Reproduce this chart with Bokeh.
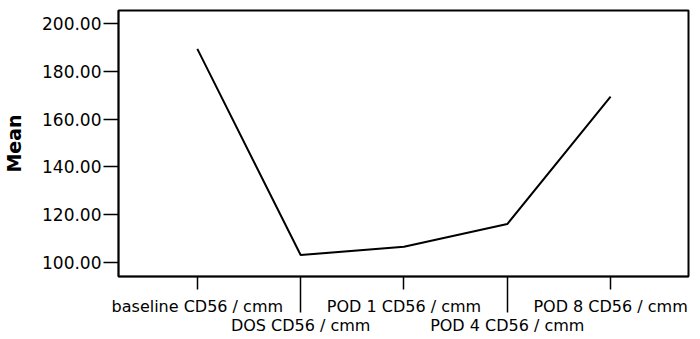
from bokeh.plotting import figure
from bokeh.models import FixedTicker, LinearAxis, Range1d, PrintfTickFormatter
from bokeh.embed import file_html
from bokeh.resources import INLINE

categories = ["baseline CD56 / cmm", "DOS CD56 / cmm", "POD 1 CD56 / cmm",
              "POD 4 CD56 / cmm", "POD 8 CD56 / cmm"]
means = [189.5, 103.0, 106.5, 116.0, 169.5]
y_ticks = [100, 120, 140, 160, 180, 200]

x = list(range(len(categories)))
FONT = "DejaVu Sans"

p = figure(width=700, height=339, output_backend="svg", toolbar_location=None,
           x_range=Range1d(-0.763, 4.754), y_range=Range1d(94.0, 205.6),
           min_border_left=117, min_border_right=12, min_border_top=10,
           min_border_bottom=63, x_axis_location=None)

p.line(x, means, line_color="black", line_width=2.0)

p.xgrid.visible = False
p.ygrid.visible = False
p.outline_line_color = "black"
p.outline_line_width = 2
p.background_fill_color = "white"
p.border_fill_color = "white"

# y axis
ya = p.yaxis[0]
ya.ticker = FixedTicker(ticks=y_ticks, minor_ticks=[])
ya.formatter = PrintfTickFormatter(format="%.2f")
ya.major_tick_out = 15
ya.major_tick_in = 0
ya.minor_tick_line_color = None
ya.major_tick_line_width = 1.5
ya.axis_line_width = 1.5
ya.major_label_standoff = 2
ya.major_label_text_font = FONT
ya.major_label_text_font_size = "17px"
ya.major_label_text_color = "black"
ya.axis_label = "Mean"
ya.axis_label_text_font = FONT
ya.axis_label_text_font_style = "bold"
ya.axis_label_text_font_size = "19px"
ya.axis_label_text_color = "black"
ya.axis_label_standoff = 14

# x axis, upper row of labels
top_idx = [0, 2, 4]
low_idx = [1, 3]
xa1 = LinearAxis(ticker=FixedTicker(ticks=top_idx, minor_ticks=low_idx),
                 major_label_overrides={i: categories[i] for i in top_idx})
xa1.major_tick_out = 13
xa1.major_tick_in = 0
xa1.minor_tick_out = 36
xa1.minor_tick_in = 0
xa1.major_tick_line_width = 1.5
xa1.minor_tick_line_width = 1.5
xa1.minor_tick_line_color = "black"
xa1.axis_line_width = 1.5
xa1.major_label_standoff = -16
xa1.major_label_text_font = FONT
xa1.major_label_text_font_size = "16px"
xa1.major_label_text_color = "black"
p.add_layout(xa1, "below")

# x axis, lower row of labels
xa2 = LinearAxis(ticker=FixedTicker(ticks=low_idx, minor_ticks=[]),
                 major_label_overrides={i: categories[i] for i in low_idx})
xa2.axis_line_color = None
xa2.major_tick_line_color = None
xa2.minor_tick_line_color = None
xa2.major_tick_out = 0
xa2.major_tick_in = 0
xa2.major_label_standoff = -3
xa2.major_label_text_font = FONT
xa2.major_label_text_font_size = "16px"
xa2.major_label_text_color = "black"
p.add_layout(xa2, "below")

open("out.html", "w").write(file_html(p, INLINE))
